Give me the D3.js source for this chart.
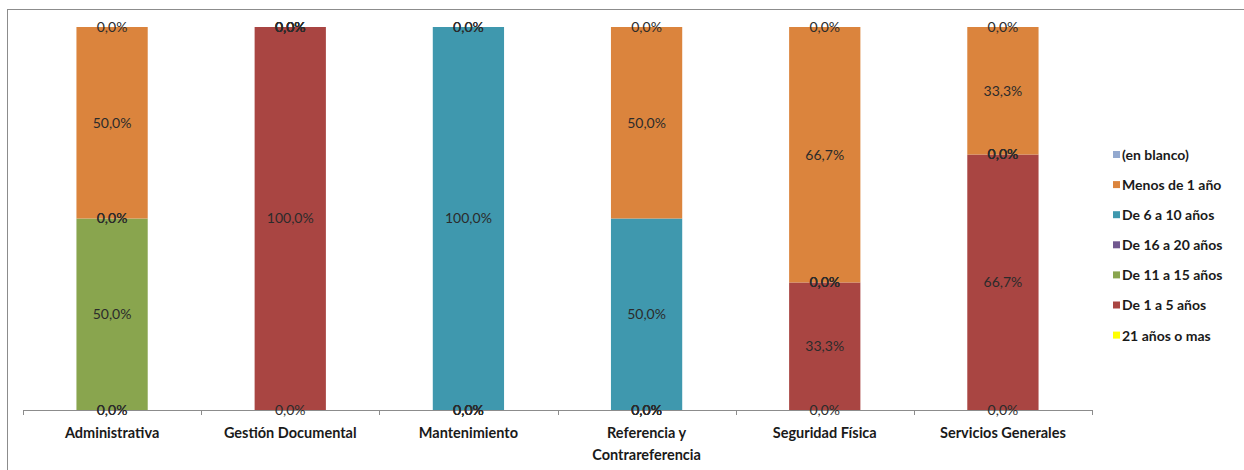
<!DOCTYPE html>
<html>
<head>
<meta charset="utf-8">
<script src="https://cdn.jsdelivr.net/npm/d3@7"></script>
<style>
  html, body { margin: 0; padding: 0; background: #fff; }
  svg { display: block; }
</style>
</head>
<body>
<svg id="chart" width="1244" height="470"></svg>
<script>
// Areas (x-axis categories)
const categories = [
  "Administrativa",
  "Gestión Documental",
  "Mantenimiento",
  "Referencia y Contrareferencia",
  "Seguridad Física",
  "Servicios Generales"
];

// Share of staff per seniority band, one array per band (same order as categories)
const s21omas     = [0, 0, 0, 0, 0, 0];
const s1a5        = [0, 1, 0, 0, 0.333, 0.667];
const s11a15      = [0.5, 0, 0, 0, 0, 0];
const s16a20      = [0, 0, 0, 0, 0, 0];
const s6a10       = [0, 0, 1, 0.5, 0, 0];
const sMenos1     = [0.5, 0, 0, 0.5, 0.667, 0.333];
const sEnBlanco   = [0, 0, 0, 0, 0, 0];

// Stack order, bottom to top
const seriesNames = ["21 años o mas", "De 1 a 5 años", "De 11 a 15 años", "De 16 a 20 años", "De 6 a 10 años", "Menos de 1 año", "(en blanco)"];
const seriesValues = [s21omas, s1a5, s11a15, s16a20, s6a10, sMenos1, sEnBlanco];
const seriesColors = ["#FFFF00", "#A94542", "#89A54E", "#71588F", "#3F98AE", "#DB843D", "#93A9CF"];

// Legend order, top to bottom
const legendOrder = ["(en blanco)", "Menos de 1 año", "De 6 a 10 años", "De 16 a 20 años", "De 11 a 15 años", "De 1 a 5 años", "21 años o mas"];

const rows = categories.map((c, i) => {
  const r = { category: c };
  seriesNames.forEach((s, k) => { r[s] = seriesValues[k][i]; });
  return r;
});

const svg = d3.select("#chart");
const font = "Lato, 'Open Sans', sans-serif";

// Outer chart frame
svg.append("rect")
  .attr("x", 7.5).attr("y", 9.5)
  .attr("width", 1250).attr("height", 470)
  .attr("fill", "#fff").attr("stroke", "#8c8c8c").attr("stroke-width", 1);

const x = d3.scaleBand().domain(categories).range([23, 1092]).paddingInner(0.6).paddingOuter(0.3);
const y = d3.scaleLinear().domain([0, 1]).range([410, 27]);
const color = d3.scaleOrdinal().domain(seriesNames).range(seriesColors);

const stacked = d3.stack().keys(seriesNames)(rows);

// Bars
const layers = svg.append("g").selectAll("g").data(stacked).join("g")
  .attr("fill", d => color(d.key));
layers.selectAll("rect").data(d => d).join("rect")
  .attr("x", d => x(d.data.category))
  .attr("width", x.bandwidth())
  .attr("y", d => y(d[1]))
  .attr("height", d => y(d[0]) - y(d[1]));

// Category axis with tick marks between categories
const bounds = d3.range(categories.length + 1).map(i => 23 + i * (1092 - 23) / categories.length);
const axis = svg.append("g");
axis.append("line").attr("x1", 23).attr("x2", 1092).attr("y1", 410.5).attr("y2", 410.5)
  .attr("stroke", "#8c8c8c");
axis.selectAll("line.tick").data(bounds).join("line").attr("class", "tick")
  .attr("x1", d => Math.round(d) + 0.5).attr("x2", d => Math.round(d) + 0.5)
  .attr("y1", 410).attr("y2", 415).attr("stroke", "#8c8c8c");

// Category labels (the long one wraps onto two lines)
const catLabel = axis.selectAll("text.cat").data(categories).join("text").attr("class", "cat")
  .attr("x", d => x(d) + x.bandwidth() / 2)
  .attr("y", 438)
  .attr("text-anchor", "middle")
  .style("font-family", font).style("font-weight", "bold").style("font-size", "14.5px")
  .attr("fill", "#1a1a1a");
catLabel.each(function(d) {
  const t = d3.select(this);
  const parts = d === "Referencia y Contrareferencia" ? ["Referencia y", "Contrareferencia"] : [d];
  parts.forEach((p, i) => {
    t.append("tspan").attr("x", x(d) + x.bandwidth() / 2).attr("dy", i === 0 ? 0 : 22).text(p);
  });
});

// Data labels at the middle of every segment
const fmt = v => (v * 100).toFixed(1).replace(".", ",") + "%";
const labels = svg.append("g");
stacked.forEach(layer => {
  labels.selectAll(null).data(layer).join("text")
    .attr("x", d => x(d.data.category) + x.bandwidth() / 2)
    .attr("y", d => (y(d[0]) + y(d[1])) / 2)
    .attr("dy", "0.35em")
    .attr("text-anchor", "middle")
    .style("font-family", font).style("font-size", "14px")
    .attr("fill", "#2b2b2b")
    .text(d => fmt(d.data[layer.key]));
});

// Legend
const legend = svg.append("g").attr("transform", "translate(1113,155)");
const item = legend.selectAll("g").data(legendOrder).join("g")
  .attr("transform", (d, i) => `translate(0,${i * 30.1})`);
item.append("rect").attr("x", 0).attr("y", -4).attr("width", 7).attr("height", 7)
  .attr("fill", d => color(d));
item.append("text").attr("x", 9).attr("y", 0).attr("dy", "0.35em")
  .style("font-family", font).style("font-weight", "bold").style("font-size", "14px")
  .attr("fill", "#1a1a1a")
  .text(d => d);
</script>
</body>
</html>
